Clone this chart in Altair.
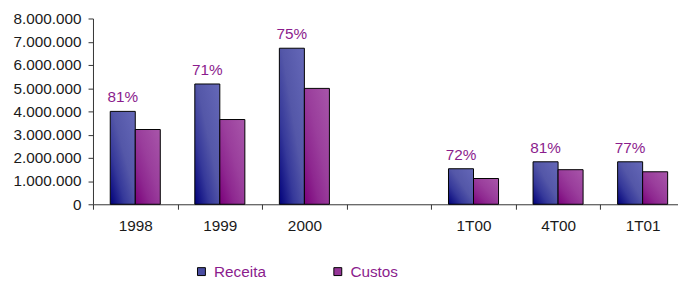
import altair as alt
import pandas as pd

categories = ["1998", "1999", "2000", " ", "1T00", "4T00", "1T01"]
periods = ["1998", "1999", "2000", "1T00", "4T00", "1T01"]
receita = [4000000, 5180000, 6720000, 1530000, 1830000, 1830000]
custos = [3220000, 3650000, 4990000, 1110000, 1490000, 1400000]
pct_labels = ["81%", "71%", "75%", "72%", "81%", "77%"]
series = ["Receita", "Custos"]
y_ticks = [0, 1000000, 2000000, 3000000, 4000000, 5000000, 6000000, 7000000, 8000000]

rows = []
for p, r, c, t in zip(periods, receita, custos, pct_labels):
    rows.append({"cat": p, "serie": "Receita", "valor": r, "pct": t})
    rows.append({"cat": p, "serie": "Custos", "valor": c, "pct": ""})
df = pd.DataFrame(rows)

FONT = "Arial"
FS = 15.5
PURPLE = "#8B1C8D"

grad_receita = {
    "gradient": "linear", "x1": 0, "y1": 1, "x2": 1, "y2": 0,
    "stops": [
        {"offset": 0.0, "color": "#00007A"},
        {"offset": 0.3, "color": "#36399A"},
        {"offset": 0.55, "color": "#5457A8"},
        {"offset": 1.0, "color": "#6568B8"},
    ],
}
grad_custos = {
    "gradient": "linear", "x1": 0, "y1": 1, "x2": 1, "y2": 0,
    "stops": [
        {"offset": 0.0, "color": "#7A007A"},
        {"offset": 0.3, "color": "#8E2890"},
        {"offset": 0.55, "color": "#9A3E9C"},
        {"offset": 1.0, "color": "#A856AA"},
    ],
}

x_enc = alt.X(
    "cat:N",
    scale=alt.Scale(domain=categories, paddingInner=0, paddingOuter=0, rangeMax=599),
    axis=alt.Axis(
        title=None, tickBand="extent", labelAngle=0, labelFont=FONT, labelFontSize=FS,
        labelColor="#1a1a1a", labelPadding=10, tickSize=5, domainColor="#333333",
        tickColor="#333333", labelFontWeight="normal",
    ),
)
xo_enc = alt.XOffset(
    "serie:N", scale=alt.Scale(domain=series, paddingOuter=0.69, paddingInner=0)
)
y_enc = alt.Y(
    "valor:Q",
    scale=alt.Scale(domain=[0, 8000000], nice=False),
    axis=alt.Axis(
        title=None, values=y_ticks, grid=False, tickSize=5, labelPadding=7,
        labelFont=FONT, labelFontSize=FS, labelColor="#1a1a1a",
        domainColor="#333333", tickColor="#333333",
        labelExpr="join(split(format(datum.value, ','), ','), '.')",
    ),
)

base = alt.Chart(df)

bars_r = base.transform_filter(alt.datum.serie == "Receita").mark_bar(
    fill=grad_receita, stroke="black", strokeWidth=1
).encode(x=x_enc, xOffset=xo_enc, y=y_enc)

bars_c = base.transform_filter(alt.datum.serie == "Custos").mark_bar(
    fill=grad_custos, stroke="black", strokeWidth=1
).encode(x=x_enc, xOffset=xo_enc, y=y_enc)

legend_layer = base.mark_square(opacity=0, size=1).encode(
    x=x_enc, xOffset=xo_enc, y=y_enc,
    color=alt.Color(
        "serie:N",
        scale=alt.Scale(domain=series, range=["#4A4DA2", "#953597"]),
        legend=alt.Legend(
            title=None, orient="none", legendX=102, legendY=248,
            direction="horizontal", symbolType="square", symbolSize=64,
            symbolStrokeColor="black", symbolStrokeWidth=1, symbolOpacity=1,
            labelColor=PURPLE, labelFont=FONT, labelFontSize=FS,
            labelOffset=5, columnPadding=64, padding=0,
        ),
    ),
)

labels = base.transform_filter(alt.datum.serie == "Receita").mark_text(
    dy=-9, baseline="alphabetic", align="center", color=PURPLE,
    font=FONT, fontSize=FS,
).encode(x=x_enc, xOffset=xo_enc, y=y_enc, text="pct:N")

chart = alt.layer(bars_r, bars_c, legend_layer, labels).properties(
    width=592, height=188,
    autosize=alt.AutoSizeParams(type="none"),
    padding={"left": 86, "top": 9, "right": 0, "bottom": 75},
).configure_view(stroke=None)

chart.save("out.html", embed_options={"renderer": "svg", "actions": False})
